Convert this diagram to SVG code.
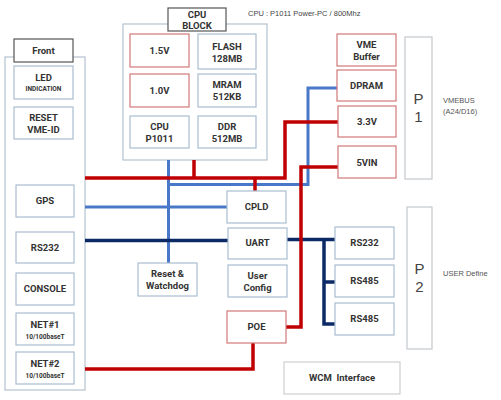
<svg xmlns="http://www.w3.org/2000/svg" width="501" height="400" viewBox="0 0 501 400">
<style>
text{font-family:Roboto,"Liberation Sans",sans-serif;text-anchor:middle;fill:#333;}
.lb{font-size:9.5px;font-weight:bold;}
.sm{font-size:6.5px;font-weight:bold;}
.nt{font-size:7.5px;text-anchor:start;fill:#555;font-family:"Liberation Sans",sans-serif;}
.big{font-size:15px;fill:#444;font-family:"Liberation Sans",sans-serif;}
.bx{fill:#fff;stroke:#a9bdd0;stroke-width:1.2;}
.rb{fill:#fff;stroke:#d27878;stroke-width:1.2;}
.ct{fill:#fff;stroke:#b4c2cf;stroke-width:1.2;}
.tag{fill:#fff;stroke:#555;stroke-width:1.2;}
.pc{fill:#fff;stroke:#c4c8cc;stroke-width:1.2;}
.r{fill:none;stroke:#c00000;stroke-width:3.5;}
.b{fill:none;stroke:#4a78c8;stroke-width:3;}
.n{fill:none;stroke:#0c2a66;stroke-width:3.5;}
</style>
<rect width="501" height="400" fill="#fff"/>
<g id="front-panel">
<rect class="ct" x="5" y="57" width="80" height="333"/>
<rect class="tag" x="14" y="39" width="59" height="23"/>
<text class="lb" x="43.5" y="54">Front</text>
</g>
<g id="cpu-block">
<rect class="ct" x="123" y="24" width="144" height="136"/>
<rect class="tag" x="168" y="8" width="58" height="23"/>
<text class="lb" x="197" y="18">CPU</text>
<text class="lb" x="197" y="29">BLOCK</text>
</g>
<text x="248" y="16" style="font-size:7.5px;text-anchor:start;fill:#444;font-family:'Liberation Sans',sans-serif">CPU : P1011  Power-PC  / 800Mhz</text>
<g id="connectors">
<path class="b" d="M168.5 160V263"/>
<path class="b" d="M168.5 184.5H308V88H337"/>
<path class="b" d="M85 207H227"/>
<path class="n" d="M85 240.5H228"/>
<path class="n" d="M287 239.5H335"/>
<path class="n" d="M324 239.5V324H335M324 282H335"/>
<path class="r" d="M85 178H285V122H338"/>
<path class="r" d="M194 160V178M255 178V191"/>
<path class="r" d="M338 167H301V327H286"/>
<path class="r" d="M253 343V369H85"/>
</g>
<g id="led"><rect class="bx" x="14" y="66" width="59" height="33"/><text class="lb" x="43.5" y="81">LED</text><text class="sm" x="43.5" y="91">INDICATION</text></g>
<g id="reset-vme"><rect class="bx" x="14" y="107" width="59" height="32"/><text class="lb" x="43.5" y="121">RESET</text><text class="lb" x="43.5" y="133">VME-ID</text></g>
<g id="gps"><rect class="bx" x="16" y="185" width="58" height="32"/><text class="lb" x="45" y="204">GPS</text></g>
<g id="rs232-front"><rect class="bx" x="16" y="232" width="58" height="31"/><text class="lb" x="45" y="251">RS232</text></g>
<g id="console"><rect class="bx" x="16" y="273" width="58" height="32"/><text class="lb" x="45" y="292">CONSOLE</text></g>
<g id="net1"><rect class="bx" x="16" y="313" width="58" height="32"/><text class="lb" x="45" y="328">NET#1</text><text class="sm" x="45" y="339">10/100baseT</text></g>
<g id="net2"><rect class="bx" x="16" y="352" width="58" height="32"/><text class="lb" x="45" y="367">NET#2</text><text class="sm" x="45" y="378">10/100baseT</text></g>
<g id="v15"><rect class="rb" x="130" y="34" width="59" height="33"/><text class="lb" x="159.5" y="54">1.5V</text></g>
<g id="v10"><rect class="rb" x="130" y="74" width="59" height="33"/><text class="lb" x="159.5" y="94">1.0V</text></g>
<g id="cpu"><rect class="bx" x="130" y="116" width="59" height="32"/><text class="lb" x="159.5" y="130">CPU</text><text class="lb" x="159.5" y="141.5">P1011</text></g>
<g id="flash"><rect class="bx" x="198" y="34" width="58" height="35"/><text class="lb" x="227" y="50">FLASH</text><text class="lb" x="227" y="61.5">128MB</text></g>
<g id="mram"><rect class="bx" x="198" y="74" width="58" height="33"/><text class="lb" x="227" y="88">MRAM</text><text class="lb" x="227" y="99.5">512KB</text></g>
<g id="ddr"><rect class="bx" x="198" y="116" width="58" height="32"/><text class="lb" x="227" y="130">DDR</text><text class="lb" x="227" y="141.5">512MB</text></g>
<g id="vme-buffer"><rect class="rb" x="337" y="34" width="59" height="32"/><text class="lb" x="366.5" y="48">VME</text><text class="lb" x="366.5" y="59.5">Buffer</text></g>
<g id="dpram"><rect class="rb" x="337" y="70" width="59" height="31"/><text class="lb" x="366.5" y="89">DPRAM</text></g>
<g id="v33"><rect class="rb" x="338" y="106" width="58" height="31"/><text class="lb" x="367" y="125">3.3V</text></g>
<g id="v5in"><rect class="rb" x="338" y="146" width="58" height="32"/><text class="lb" x="367" y="166">5VIN</text></g>
<g id="p1"><rect class="pc" x="405" y="37" width="27" height="142"/><text class="big" x="418.5" y="104">P</text><text class="big" x="418.5" y="122">1</text></g>
<text class="nt" x="443" y="103">VMEBUS</text><text class="nt" x="443" y="114">(A24/D16)</text>
<g id="cpld"><rect class="bx" x="227" y="191" width="59" height="32"/><text class="lb" x="256.5" y="210">CPLD</text></g>
<g id="uart"><rect class="bx" x="228" y="228" width="59" height="31"/><text class="lb" x="257.5" y="246">UART</text></g>
<g id="user-config"><rect class="bx" x="228" y="265" width="59" height="32"/><text class="lb" x="257.5" y="279">User</text><text class="lb" x="257.5" y="290.5">Config</text></g>
<g id="poe"><rect class="rb" x="227" y="311" width="59" height="32"/><text class="lb" x="256.5" y="330">POE</text></g>
<g id="reset-watchdog"><rect class="bx" x="138" y="263" width="59" height="33"/><text class="lb" x="167.5" y="277">Reset &amp;</text><text class="lb" x="167.5" y="288.5">Watchdog</text></g>
<g id="rs232"><rect class="bx" x="335" y="227" width="59" height="32"/><text class="lb" x="364.5" y="246">RS232</text></g>
<g id="rs485a"><rect class="bx" x="335" y="265" width="59" height="32"/><text class="lb" x="364.5" y="284">RS485</text></g>
<g id="rs485b"><rect class="bx" x="335" y="303" width="59" height="32"/><text class="lb" x="364.5" y="322">RS485</text></g>
<g id="p2"><rect class="pc" x="407" y="207" width="25" height="142"/><text class="big" x="419.5" y="274">P</text><text class="big" x="419.5" y="292">2</text></g>
<text class="nt" x="443" y="276">USER Define</text>
<g id="wcm"><rect x="284" y="362" width="116" height="32" fill="#fff" stroke="#cfcfcf" stroke-width="1.2"/><text class="lb" x="342" y="381">WCM&#160; Interface</text></g>
</svg>
